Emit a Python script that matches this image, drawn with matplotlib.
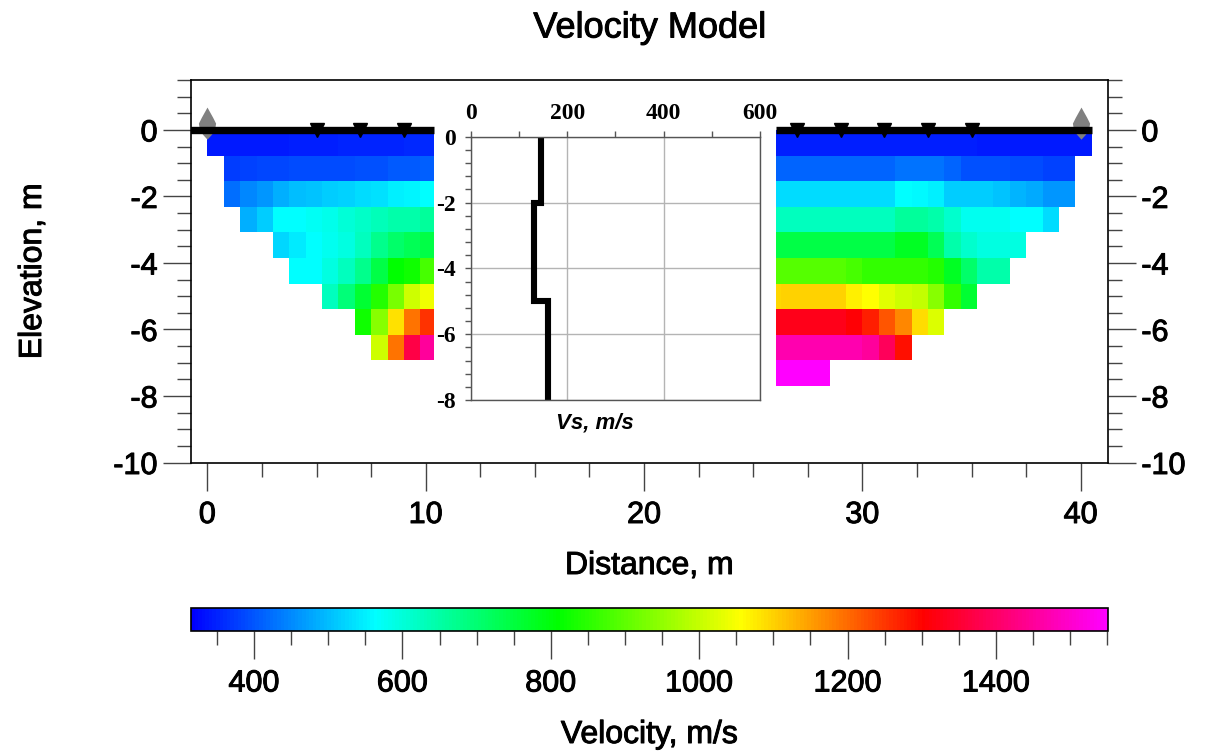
import numpy as np
import matplotlib
matplotlib.use('Agg')
import matplotlib.pyplot as plt
import matplotlib.patheffects as pe
from matplotlib.colors import LinearSegmentedColormap, Normalize
from matplotlib.ticker import MultipleLocator

plt.rcParams['font.family'] = 'Liberation Sans'
plt.rcParams['axes.unicode_minus'] = False

# cell grid of the two velocity sections (m)
depth_edges = [0, -0.77, -1.54, -2.31, -3.08, -3.85, -4.62, -5.39, -6.16, -6.93, -7.70]
left_x_edges = [0, 0.75, 1.5, 2.25, 3.0, 3.75, 4.5, 5.25, 6.0, 6.75, 7.5, 8.25, 9.0, 9.75, 10.4]
right_x_edges = [26.05, 26.25, 27.0, 27.75, 28.5, 29.25, 30.0, 30.75, 31.5, 32.25, 33.0,
                 33.75, 34.5, 35.25, 36.0, 36.75, 37.5, 38.25, 39.0, 39.75, 40.5]

# P-wave velocity (m/s), left section rows are right-aligned
left_rows = [
    [340, 340, 340, 342, 342, 344, 346, 348, 350, 350, 352, 352, 354, 354],
    [377, 381, 385, 385, 389, 389, 392, 392, 397, 397, 404, 404, 408],
    [423, 447, 463, 486, 501, 505, 513, 521, 532, 536, 548, 552, 562],
    [486, 513, 562, 562, 573, 584, 600, 619, 631, 644, 644, 661],
    [524, 545, 562, 577, 592, 628, 677, 710, 727, 743],
    [562, 565, 595, 628, 677, 743, 810, 826, 876],
    [628, 694, 760, 843, 925, 1008, 1041],
    [826, 942, 1087, 1189, 1255],
    [1008, 1189, 1371, 1453],
]

# right section rows are left-aligned
right_rows = [
    [348, 348, 348, 348, 348, 348, 348, 348, 348, 348, 346, 346, 346, 340, 340, 340, 340, 340, 340, 340],
    [414, 414, 414, 414, 414, 414, 414, 414, 430, 430, 430, 414, 397, 397, 397, 392, 392, 381, 381],
    [530, 530, 530, 532, 532, 532, 532, 532, 562, 560, 548, 517, 513, 513, 505, 493, 480, 463, 463],
    [628, 628, 628, 628, 628, 628, 628, 628, 661, 661, 644, 611, 578, 578, 578, 562, 562, 529],
    [743, 743, 743, 743, 743, 743, 743, 743, 776, 776, 727, 644, 611, 595, 595, 595],
    [892, 892, 892, 892, 892, 876, 859, 859, 859, 859, 843, 776, 710, 644, 644],
    [1096, 1098, 1098, 1098, 1098, 1073, 1057, 1027, 1008, 996, 942, 859, 760],
    [1328, 1328, 1328, 1328, 1328, 1305, 1271, 1222, 1172, 1090, 1024],
    [1470, 1470, 1470, 1470, 1470, 1470, 1453, 1387, 1288],
    [1551, 1551, 1551, 1551],
]

receivers_x = [5, 7, 9, 27, 29, 31, 33, 35]
sources_x = [0, 40]
surface_left = [-1, 10.4]
surface_right = [26.05, 40.5]

# Vs profile (inset)
layer_depths = [0, -2, -5, -8]
layer_vs = [146, 131, 161]

vmin, vmax = 315, 1551


def to_grid(rows, ncols, align_right):
    grid = np.full((len(rows), ncols), np.nan)
    for i, r in enumerate(rows):
        if align_right:
            grid[i, ncols - len(r):] = r
        else:
            grid[i, :len(r)] = r
    return np.ma.masked_invalid(grid)


cmap = LinearSegmentedColormap.from_list(
    'vel', ['#0000ff', '#00ffff', '#00ff00', '#ffff00', '#ff0000', '#ff00ff'])
norm = Normalize(vmin=vmin, vmax=vmax)

# slightly heavier strokes for the sans text, like the reference rendering
heavy = [pe.withStroke(linewidth=0.7, foreground='black')]

fig = plt.figure(figsize=(12.05, 7.53), dpi=100)
W, H = 1205, 753

ax = fig.add_axes([191 / W, 1 - 462.5 / H, 917 / W, 382.5 / H])

left_grid = to_grid(left_rows, len(left_x_edges) - 1, True)
right_grid = to_grid(right_rows, len(right_x_edges) - 1, False)

mesh = ax.pcolormesh(left_x_edges, depth_edges[:len(left_rows) + 1], left_grid,
                     cmap=cmap, norm=norm, shading='flat', antialiased=False)
ax.pcolormesh(right_x_edges, depth_edges[:len(right_rows) + 1], right_grid,
              cmap=cmap, norm=norm, shading='flat', antialiased=False)

# sources (drop shape)
drop = [(0, 1), (0.25, 0.55), (0.375, 0.3), (0.34, 0.08), (0.2, -0.18), (0, -0.4),
        (-0.2, -0.18), (-0.34, 0.08), (-0.375, 0.3), (-0.25, 0.55), (0, 1)]
ax.plot(sources_x, [0] * len(sources_x), linestyle='none', marker=drop, markersize=33,
        color='#808080', markeredgewidth=0, zorder=3)

# ground surface
ax.plot(surface_left, [0, 0], color='black', lw=5.3, solid_capstyle='butt', zorder=4)
ax.plot(surface_right, [0, 0], color='black', lw=5.3, solid_capstyle='butt', zorder=4)

# receivers
ax.plot(receivers_x, [0] * len(receivers_x), linestyle='none', marker='v', markersize=10,
        color='black', zorder=5)

ax.set_xlim(-0.75, 41.25)
ax.set_ylim(-10, 1.5)
ax.xaxis.set_major_locator(MultipleLocator(10))
ax.xaxis.set_minor_locator(MultipleLocator(2.5))
ax.yaxis.set_major_locator(MultipleLocator(2))
ax.yaxis.set_minor_locator(MultipleLocator(0.5))
ax.tick_params(which='both', direction='out', color='#444444', width=1,
               left=True, right=True, top=False, bottom=True,
               labelleft=True, labelright=True, labelsize=22)
ax.tick_params(which='major', length=20, pad=4)
ax.tick_params(axis='x', which='major', pad=7)
ax.tick_params(which='minor', length=10)
for s in ax.spines.values():
    s.set_linewidth(1.2)
for lab in ax.get_xticklabels() + ax.get_yticklabels():
    lab.set_path_effects(heavy)
for t in ax.yaxis.get_major_ticks():
    t.label2.set_path_effects(heavy)

fig.text(649.5 / W, 1 - 28 / H, 'Velocity Model', ha='center', va='center', fontsize=26,
         path_effects=heavy)
fig.text(649.5 / W, 1 - 566 / H, 'Distance, m', ha='center', va='center', fontsize=23,
         path_effects=heavy)
fig.text(33 / W, 1 - 271 / H, 'Elevation, m', ha='center', va='center', fontsize=23,
         rotation=90, path_effects=heavy)

# inset with the Vs profile
ax_in = fig.add_axes([470.7 / W, 1 - 400 / H, 289.3 / W, 263.3 / H])
ax_in.set_zorder(6)
vs_x = np.repeat(layer_vs, 2)
vs_y = np.repeat(layer_depths, 2)[1:-1]
ax_in.plot(vs_x, vs_y, color='black', lw=4.4, solid_joinstyle='miter')
ax_in.set_xlim(0, 600)
ax_in.set_ylim(-8, 0)
ax_in.xaxis.tick_top()
ax_in.set_xticks([0, 200, 400, 600])
ax_in.set_yticks([0, -2, -4, -6, -8])
ax_in.xaxis.set_minor_locator(MultipleLocator(100))
ax_in.yaxis.set_minor_locator(MultipleLocator(0.4))
ax_in.grid(True, which='major', color='#b4b4b4', lw=1)
ax_in.set_axisbelow(True)
ax_in.tick_params(which='both', direction='out', length=4, width=1, color='#555555')
ax_in.tick_params(axis='x', pad=5)
ax_in.tick_params(axis='y', pad=7)
for lab in ax_in.get_xticklabels() + ax_in.get_yticklabels():
    lab.set_fontfamily('Liberation Serif')
    lab.set_fontweight('bold')
    lab.set_fontsize(17)
for s in ax_in.spines.values():
    s.set_color('#555555')
    s.set_linewidth(1)
ax_in.text(0.43, -0.087, 'Vs, m/s', transform=ax_in.transAxes, ha='center', va='center',
           fontsize=16, fontweight='bold', fontstyle='italic')

# colour bar
cax = fig.add_axes([191 / W, 1 - 631 / H, 917 / W, 23.5 / H])
cb = fig.colorbar(mesh, cax=cax, orientation='horizontal')
cb.set_ticks([400, 600, 800, 1000, 1200, 1400])
cax.xaxis.set_minor_locator(MultipleLocator(50))
cax.tick_params(which='both', direction='out', color='#444444', width=1, labelsize=22)
cax.tick_params(which='major', length=20, pad=7)
cax.tick_params(which='minor', length=10)
for lab in cax.get_xticklabels():
    lab.set_path_effects(heavy)
cb.outline.set_linewidth(1.2)
fig.text(649.5 / W, 1 - 735 / H, 'Velocity, m/s', ha='center', va='center', fontsize=23,
         path_effects=heavy)

fig.savefig('out.png', dpi=100)
